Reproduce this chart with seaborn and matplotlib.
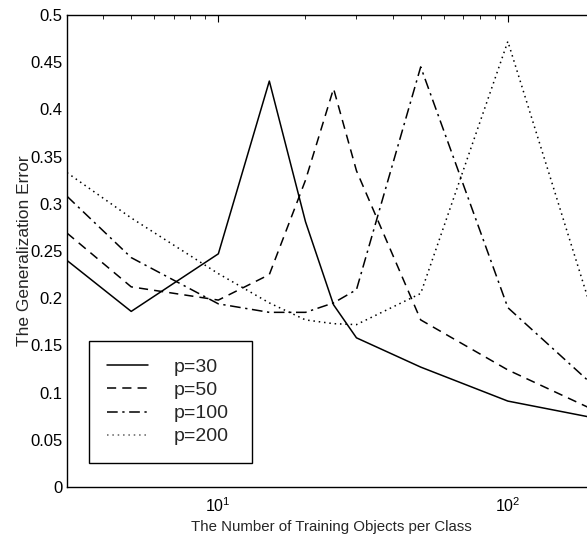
import numpy as np
import pandas as pd
import matplotlib
matplotlib.use("Agg")
import matplotlib.pyplot as plt
import matplotlib.ticker as mticker
import seaborn as sns

# values
n_train = [3, 5, 10, 15, 20, 25, 30, 50, 100, 200]
err_p30 = [0.240, 0.186, 0.247, 0.430, 0.281, 0.193, 0.158, 0.127, 0.091, 0.073]
err_p50 = [0.269, 0.212, 0.198, 0.225, 0.325, 0.422, 0.335, 0.177, 0.124, 0.081]
err_p100 = [0.308, 0.243, 0.194, 0.185, 0.185, 0.195, 0.209, 0.445, 0.190, 0.106]
err_p200 = [0.333, 0.285, 0.226, 0.195, 0.177, 0.173, 0.172, 0.205, 0.472, 0.176]
labels = ["p=30", "p=50", "p=100", "p=200"]

frames = []
for lab, vals in zip(labels, [err_p30, err_p50, err_p100, err_p200]):
    frames.append(pd.DataFrame({"n": n_train, "err": vals, "p": lab}))
df = pd.concat(frames, ignore_index=True)

sns.set_style("white")
plt.rcParams["font.family"] = ["Liberation Sans", "DejaVu Sans"]
plt.rcParams["mathtext.fontset"] = "custom"
plt.rcParams["mathtext.rm"] = "Liberation Sans"
plt.rcParams["mathtext.default"] = "rm"

fig = plt.figure(figsize=(5.87, 5.39), dpi=100)
ax = fig.add_axes([0.1141, 0.0965, 0.8995, 0.8757])

dashes = {"p=30": "", "p=50": (6, 4), "p=100": (7, 3, 1.5, 3), "p=200": (1, 2.5)}
sns.lineplot(data=df, x="n", y="err", style="p", dashes=dashes, color="black",
             linewidth=1.1, ax=ax, legend=True)
for line in ax.get_lines():
    if line.get_label() == "p=200":
        line.set_color("#606060")

ax.set_xscale("log")
ax.set_xlim(3, 200)
ax.set_ylim(0, 0.5)
ax.yaxis.set_major_locator(mticker.MultipleLocator(0.05))
ax.yaxis.set_major_formatter(mticker.FuncFormatter(lambda v, _: "%g" % round(v, 2)))

for s in ax.spines.values():
    s.set_color("black")
    s.set_linewidth(1.0)
ax.tick_params(which="both", direction="in", top=True, right=True, colors="black")
ax.tick_params(which="major", length=5)
ax.tick_params(which="minor", length=3)
ax.tick_params(axis="y", labelsize=12, pad=3)
ax.tick_params(axis="x", labelsize=11.5, pad=7)

ax.set_xlabel("The Number of Training Objects per Class", fontsize=10.8, labelpad=3)
ax.set_ylabel("The Generalization Error", fontsize=12.5, labelpad=-1)

handles, labs = ax.get_legend_handles_labels()
leg = ax.legend(handles, labs, loc="lower left",
                bbox_to_anchor=(0.042, 0.051, 0.309, 0.2), mode="expand",
                fontsize=14, handlelength=2.15, handletextpad=1.3, labelspacing=0.28,
                fancybox=False, framealpha=1, edgecolor="black", borderpad=0.9,
                borderaxespad=0)
leg.get_frame().set_linewidth(1.0)

fig.savefig("out.png", dpi=100)
